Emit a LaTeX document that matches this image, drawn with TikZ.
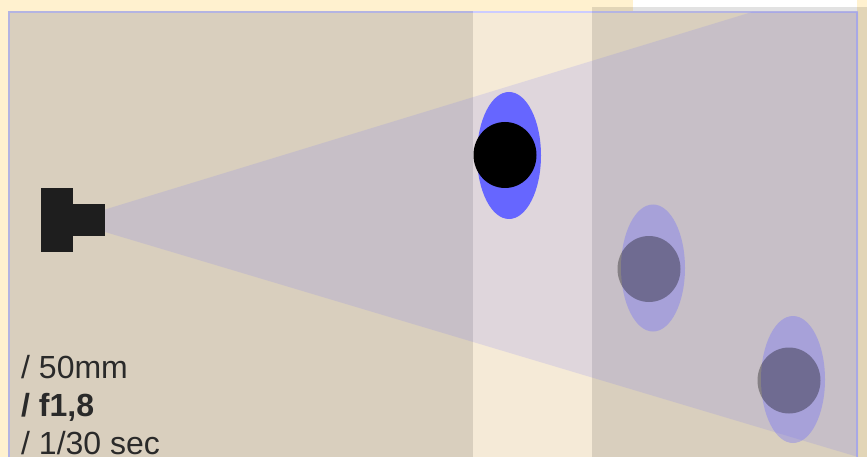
\documentclass[tikz,border=0pt]{standalone}
\usepackage{fontspec}
\setmainfont{Liberation Sans}

\definecolor{paper}{HTML}{FFF1CF}
\definecolor{boxfill}{HTML}{F5EAD7}
\definecolor{boxline}{HTML}{CCCCFF}
\definecolor{bokeh}{HTML}{6666FF}
\definecolor{camera}{HTML}{1E1E1E}
\definecolor{caption}{HTML}{2A2A2A}

\tikzset{
  shade band/.style={fill=black, fill opacity=0.115},
  caption line/.style={anchor=base west, inner sep=0pt, text=caption, font=\fontsize{32}{38}\selectfont},
}

\begin{document}
\begin{tikzpicture}[x=1pt, y=-1pt]

  \clip (0,0) rectangle (867,457);

  \fill[paper] (0,0) rectangle (867,457);
  \fill[white] (633,0) rectangle (857,12);

  \draw[boxline, line width=2pt, fill=boxfill] (9,12) rectangle (857,480);

  \fill[shade band] (8,11) rectangle (473,457);
  \fill[shade band] (592,7) rectangle (867,457);

  \begin{scope}
    \clip (8,11) rectangle (858,457);
    \fill[bokeh, fill opacity=0.15] (105,209.5) -- (752,12) -- (867,12) -- (867,459) -- (858,457) -- (105,232) -- cycle;
  \end{scope}

  \fill[camera] (41,188) rectangle (73,252);
  \fill[camera] (73,204) rectangle (105,236);

  \foreach \x/\y/\c/\o in {509/155.5/155/1, 653/268/269/0.33, 793/379.5/380.5/0.33} {
    \fill[bokeh, fill opacity=\o] (\x,\y) ellipse [x radius=32, y radius=63.5];
    \fill[black, fill opacity=\o] (\x-4,\c) ellipse [x radius=31.5, y radius=33];
  }

  \node[caption line] (focal) at (21,378) {/ 50mm};
  \node[caption line, font=\fontsize{32}{38}\selectfont\bfseries] (aperture) at (21,416) {/ f1,8};
  \node[caption line] (shutter) at (21,454) {/ 1/30 sec};

\end{tikzpicture}
\end{document}
